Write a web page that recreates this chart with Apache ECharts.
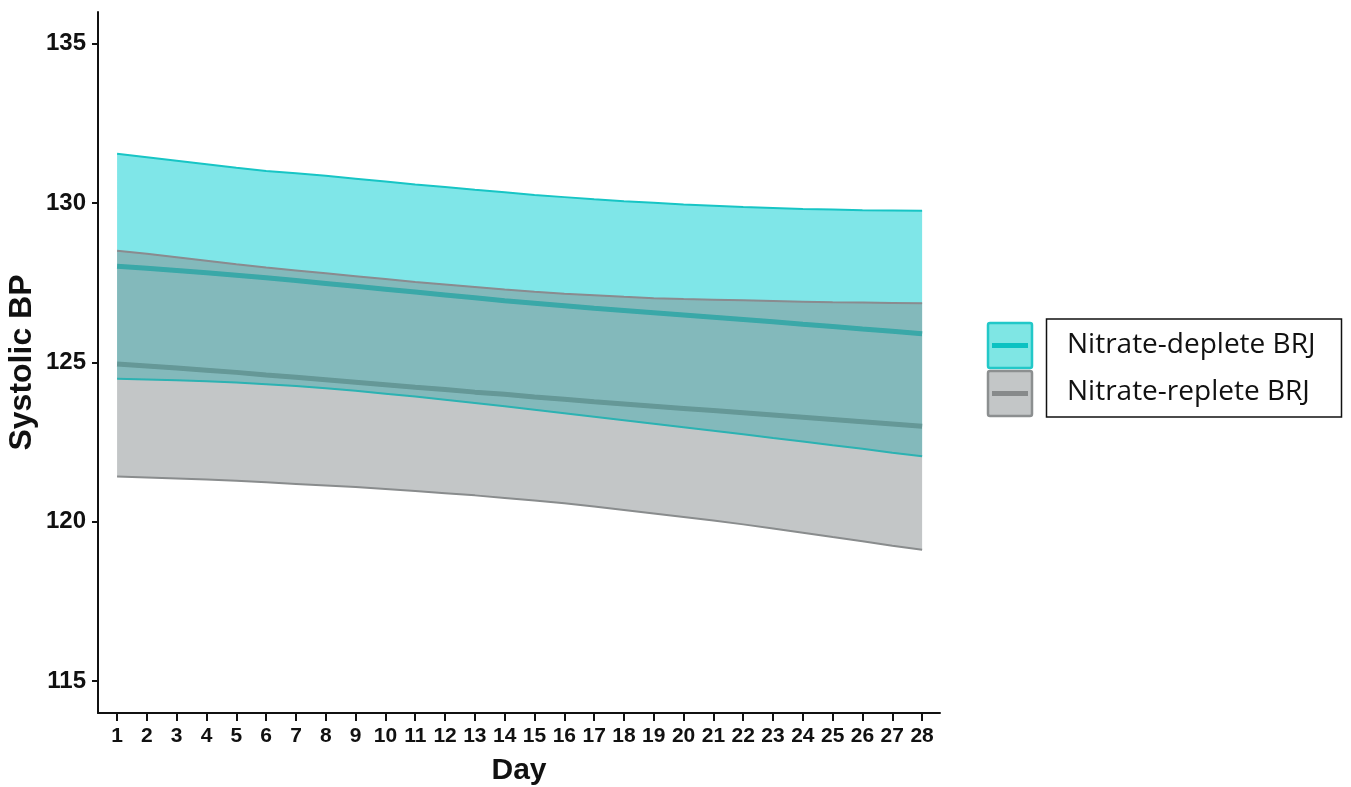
<!DOCTYPE html>
<html>
<head>
<meta charset="utf-8">
<script src="https://cdn.jsdelivr.net/npm/echarts@6/dist/echarts.min.js"></script>
<style>
	html, body { margin:0; padding:0; background:#ffffff; }
	#chart { width:1351px; height:787px; }
</style>
</head>
<body>
<div id="chart"></div>
<script>
// days on the x axis
var days = [1,2,3,4,5,6,7,8,9,10,11,12,13,14,15,16,17,18,19,20,21,22,23,24,25,26,27,28];
var yTicks = [115,120,125,130,135];

// Nitrate-deplete BRJ : upper / fitted / lower
var depUpper = [131.55,131.44,131.33,131.22,131.11,131.01,130.94,130.86,130.77,130.68,130.59,130.51,130.42,130.34,
	130.26,130.19,130.12,130.06,130.01,129.96,129.92,129.88,129.85,129.82,129.80,129.78,129.77,129.76];
var depMid = [128.02,127.96,127.89,127.82,127.74,127.66,127.57,127.48,127.39,127.30,127.21,127.12,127.03,126.94,
	126.86,126.78,126.70,126.63,126.56,126.49,126.42,126.35,126.28,126.20,126.13,126.05,125.98,125.90];
var depLower = [124.49,124.47,124.44,124.41,124.37,124.32,124.26,124.19,124.11,124.02,123.93,123.83,123.73,123.63,
	123.52,123.41,123.30,123.19,123.08,122.97,122.86,122.75,122.63,122.52,122.40,122.29,122.17,122.06];

// Nitrate-replete BRJ : upper / fitted / lower
var repUpper = [128.51,128.41,128.30,128.19,128.08,127.98,127.89,127.80,127.71,127.62,127.53,127.45,127.37,127.29,
	127.22,127.16,127.11,127.06,127.02,126.99,126.97,126.95,126.93,126.91,126.89,126.88,126.87,126.86];
var repMid = [124.95,124.89,124.83,124.76,124.69,124.61,124.54,124.46,124.38,124.30,124.22,124.15,124.07,124.00,
	123.92,123.85,123.77,123.70,123.63,123.56,123.49,123.42,123.35,123.28,123.21,123.14,123.07,123.00];
var repLower = [121.42,121.39,121.36,121.33,121.29,121.24,121.19,121.14,121.09,121.03,120.97,120.90,120.83,120.75,
	120.67,120.58,120.48,120.37,120.26,120.15,120.04,119.92,119.79,119.66,119.52,119.39,119.25,119.12];

function pairs(arr){
	var out = [];
	for(var i = 0; i < days.length; i++){
		out.push([days[i], arr[i]]);
	}
	return out;
}
function edge(name, arr, color, w, z){
	return {
		name : name,
		type : 'line',
		data : pairs(arr),
		symbol : 'none',
		silent : true,
		z : z,
		lineStyle : { color : color, width : w },
		emphasis : { disabled : true }
	};
}
// confidence ribbon drawn as one polygon through the axis scales
function band(name, up, low, fill, z){
	var rows = [];
	for(var i = 0; i < days.length; i++){
		rows.push([days[i], up[i], low[i]]);
	}
	return {
		name : name,
		type : 'custom',
		data : rows,
		silent : true,
		z : z,
		clip : true,
		renderItem : function(params, api){
			if(params.dataIndex !== 0) return;
			var pts = [];
			for(var i = 0; i < rows.length; i++){
				pts.push(api.coord([rows[i][0], rows[i][1]]));
			}
			for(var j = rows.length-1; j >= 0; j--){
				pts.push(api.coord([rows[j][0], rows[j][2]]));
			}
			return {
				type : 'polygon',
				shape : { points : pts },
				style : { fill : fill, stroke : null }
			};
		}
	};
}

var chart = echarts.init(document.getElementById('chart'));
var option = {
	animation : false,
	grid : { left : 98, top : 12, right : 411, bottom : 74, containLabel : false, outerBoundsMode : 'none' },
	xAxis : {
		type : 'value',
		min : 0.36,
		max : 28.6,
		name : 'Day',
		nameLocation : 'middle',
		nameGap : 43,
		nameTextStyle : { fontFamily : 'Liberation Sans', fontWeight : 'bold', fontSize : 30, color : '#111' },
		axisLine : { onZero : false, lineStyle : { color : '#111', width : 2 } },
		axisTick : { customValues : days, length : 8, lineStyle : { color : '#111', width : 2 } },
		axisLabel : { customValues : days, margin : 13, fontFamily : 'Liberation Sans', fontWeight : 'bold', fontSize : 21, color : '#111' },
		splitLine : { show : false }
	},
	yAxis : {
		type : 'value',
		min : 114,
		max : 136,
		name : 'Systolic BP',
		nameLocation : 'middle',
		nameGap : 60,
		nameMoveOverlap : false,
		nameRotate : 90,
		nameTextStyle : { fontFamily : 'Liberation Sans', fontWeight : 'bold', fontSize : 32, color : '#111' },
		axisLine : { show : true, onZero : false, lineStyle : { color : '#111', width : 2 } },
		axisTick : { show : true, customValues : yTicks, length : 6, lineStyle : { color : '#111', width : 2 } },
		axisLabel : { customValues : yTicks, margin : 12, fontFamily : 'Liberation Sans', fontWeight : 'bold', fontSize : 24, color : '#111' },
		splitLine : { show : false }
	},
	series : [
		band('depBand', depUpper, depLower, 'rgba(0,206,209,0.5)', 1),
		band('repBand', repUpper, repLower, 'rgba(135,141,143,0.5)', 2),
		edge('depUpperEdge', depUpper, '#17c5c5', 2, 3),
		edge('depLowerEdge', depLower, '#2cb2b2', 2, 3),
		edge('repUpperEdge', repUpper, '#8a8b8f', 2, 3),
		edge('repLowerEdge', repLower, '#898c8d', 2, 3),
		edge('Nitrate-deplete BRJ', depMid, '#3aa8a8', 5, 4),
		edge('Nitrate-replete BRJ', repMid, '#659897', 5, 4)
	],
	graphic : [
		// legend keys
		{ type : 'rect', shape : { x : 988, y : 323, width : 44, height : 45, r : 2 },
			style : { fill : '#7fe6e4', stroke : '#22c8c8', lineWidth : 2.5 } },
		{ type : 'line', shape : { x1 : 992, y1 : 345.5, x2 : 1028, y2 : 345.5 },
			style : { stroke : '#0cc2c2', lineWidth : 5 } },
		{ type : 'rect', shape : { x : 988, y : 371, width : 44, height : 45, r : 2 },
			style : { fill : '#c3c6c7', stroke : '#8c8f90', lineWidth : 2.5 } },
		{ type : 'line', shape : { x1 : 992, y1 : 393.5, x2 : 1028, y2 : 393.5 },
			style : { stroke : '#878a8b', lineWidth : 5 } },
		// legend text frame
		{ type : 'rect', shape : { x : 1046.5, y : 319, width : 295, height : 98 },
			style : { fill : '#ffffff', stroke : '#111', lineWidth : 1.5 } },
		{ type : 'text', x : 1067, y : 359,
			style : { text : 'Nitrate-deplete BRJ', fontFamily : 'Open Sans', fontSize : 28, fill : '#111', textAlign : 'left', textVerticalAlign : 'bottom' } },
		{ type : 'text', x : 1067, y : 406,
			style : { text : 'Nitrate-replete BRJ', fontFamily : 'Open Sans', fontSize : 28, fill : '#111', textAlign : 'left', textVerticalAlign : 'bottom' } }
	]
};
chart.setOption(option);
</script>
</body>
</html>
